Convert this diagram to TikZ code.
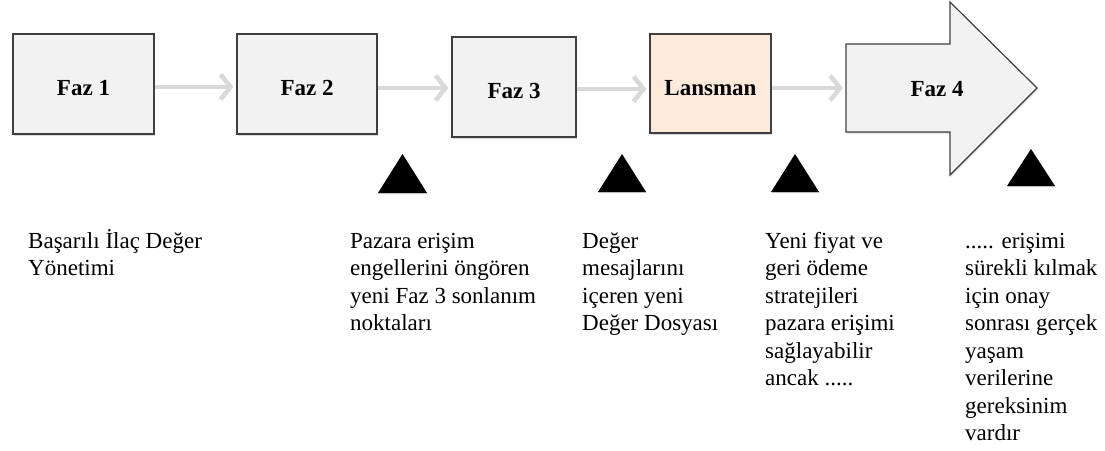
\documentclass[tikz,border=0pt]{standalone}
\usepackage{fontspec}
\setmainfont{Liberation Serif}
\usetikzlibrary{arrows.meta,shadows}
\definecolor{boxfill}{HTML}{F2F2F2}
\definecolor{peach}{HTML}{FDEADA}
\definecolor{edge}{HTML}{3F3F3F}
\definecolor{conn}{HTML}{D9D9D9}
\tikzset{
  phasebox/.style={draw=edge, line width=1.2pt, fill=boxfill, minimum height=100pt,
    inner sep=0pt, font=\fontsize{23}{27.5}\selectfont\bfseries, text height=23pt, text depth=0pt,
    drop shadow={shadow xshift=1.2pt, shadow yshift=-1.5pt, opacity=0.3}},
  flow/.style={draw=conn, line width=4.5pt, -{Straight Barb[length=10pt,width=25pt]}, shorten >=3pt},
  note/.style={anchor=north west, inner sep=0pt, align=left, font=\fontsize{23}{27.5}\selectfont},
  marker/.style={fill=black, drop shadow={shadow xshift=0.8pt, shadow yshift=-1pt, opacity=0.3}}
}
\newcommand{\firstline}{\rule{0pt}{21pt}}
\begin{document}
\begin{tikzpicture}[x=1pt,y=-1pt]
\useasboundingbox (0,0) rectangle (1105,450);
% boxes
\node[phasebox, minimum width=141pt] (f1) at (83.5,84) {Faz 1};
\node[phasebox, minimum width=140pt] (f2) at (307,84) {Faz 2};
\node[phasebox, minimum width=124pt] (f3) at (514,87) {Faz 3};
\node[phasebox, minimum width=121pt, minimum height=99pt, fill=peach] (lan) at (710.5,83.5) {Lansman};
% big arrow Faz 4
\coordinate (f4in) at (846,88);
\filldraw[draw=edge, line width=1.2pt, fill=boxfill, drop shadow={shadow xshift=1.2pt, shadow yshift=-1.5pt, opacity=0.3}]
  (846,44) -- (950,44) -- (950,2) -- (1037,88) -- (950,175) -- (950,132) -- (846,132) -- cycle;
\node[font=\fontsize{23}{27.5}\selectfont\bfseries, inner sep=0pt, text height=23pt, text depth=0pt] (f4) at (937,85) {Faz 4};
% connectors
\draw[flow] ([yshift=-3pt]f1.east) -- ([yshift=-3pt]f1.east -| f2.west);
\draw[flow] ([yshift=-4pt]f2.east) -- ([yshift=-4pt]f2.east -| f3.west);
\draw[flow] ([yshift=-2pt]f3.east) -- ([yshift=-2pt]f3.east -| lan.west);
\draw[flow] ([yshift=-4.5pt]lan.east) -- (f4in);
% markers
\fill[marker] (378,193) -- (402.5,154) -- (427,193) -- cycle;
\fill[marker] (598,192) -- (622,154) -- (646,192) -- cycle;
\fill[marker] (771,192) -- (795,154) -- (819,192) -- cycle;
\fill[marker] (1007,186) -- (1031,149) -- (1055,186) -- cycle;
% notes
\node[note] (n1) at (28,227) {\firstline Başarılı İlaç Değer\\Yönetimi};
\node[note] (n2) at (350,227) {\firstline Pazara erişim\\engellerini öngören\\yeni Faz 3 sonlanım\\noktaları};
\node[note] (n3) at (582,227) {\firstline Değer\\mesajlarını\\içeren yeni\\Değer Dosyası};
\node[note] (n4) at (765,227) {\firstline Yeni fiyat ve\\geri ödeme\\stratejileri\\pazara erişimi\\sağlayabilir\\ancak .....};
\node[note] (n5) at (965,227) {\firstline ..... erişimi\\sürekli kılmak\\için onay\\sonrası gerçek\\yaşam\\verilerine\\gereksinim\\vardır};
\end{tikzpicture}
\end{document}
